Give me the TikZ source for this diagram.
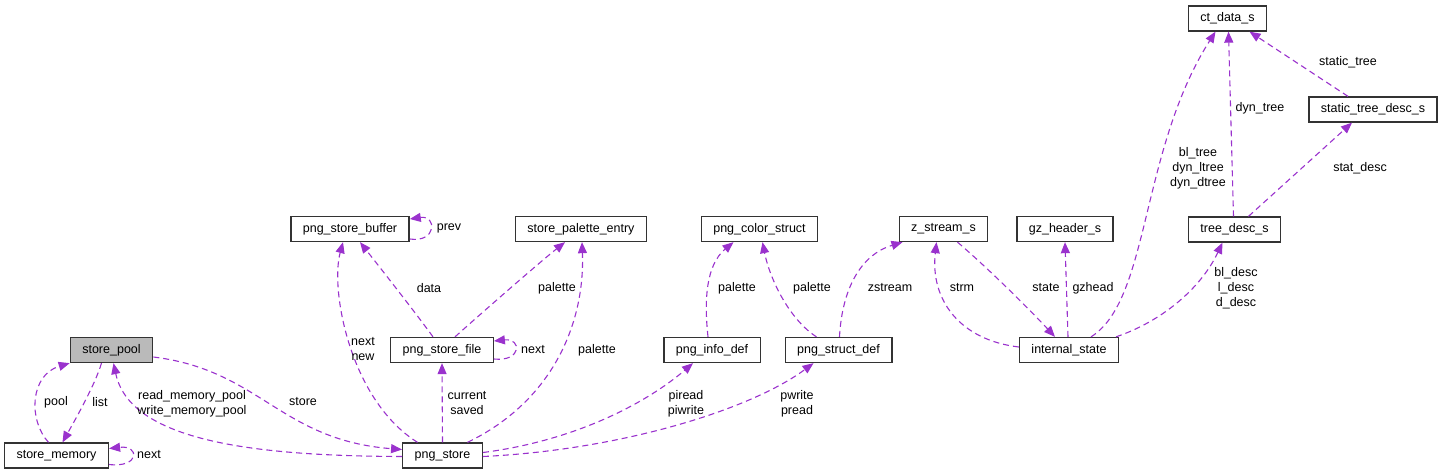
\documentclass[tikz,border=0pt]{standalone}
\usepackage{fontspec}
\setmainfont{Liberation Sans}
\usetikzlibrary{arrows.meta}
\definecolor{orchid}{RGB}{154,50,205}

\begin{document}
\begin{tikzpicture}[x=1pt, y=-1pt,
  every node/.style={font=\fontsize{12.5}{15}\selectfont},
  cls/.style={draw=black!80, line width=1.3pt, fill=white, minimum height=25pt, inner xsep=12pt, inner ysep=0pt},
  rel/.style={draw=orchid, line width=1.1pt, dash pattern=on 6pt off 4pt, -{Triangle[length=11pt,width=9pt]}},
  lbl/.style={align=center, inner sep=0pt}]
  \useasboundingbox (0,0) rectangle (1444,475);

  % classes
  \node (pool) [cls, fill=black!27] at (111.5,350) {store\_pool};
  \node (memory) [cls] at (56.5,455.5) {store\_memory};
  \node (pngstore) [cls] at (442.5,455.5) {png\_store};
  \node (storefile) [cls] at (442,350) {png\_store\_file};
  \node (buffer) [cls] at (350,229) {png\_store\_buffer};
  \node (palentry) [cls] at (581,229) {store\_palette\_entry};
  \node (colorstruct) [cls] at (759.5,229) {png\_color\_struct};
  \node (infodef) [cls] at (712,350) {png\_info\_def};
  \node (structdef) [cls] at (838.5,350) {png\_struct\_def};
  \node (zstream) [cls] at (943.5,229) {z\_stream\_s};
  \node (gzheader) [cls] at (1065,229) {gz\_header\_s};
  \node (istate) [cls] at (1069,350) {internal\_state};
  \node (treedesc) [cls] at (1234.5,229.5) {tree\_desc\_s};
  \node (stdesc) [cls] at (1373,109.5) {static\_tree\_desc\_s};
  \node (ctdata) [cls] at (1227.5,18.5) {ct\_data\_s};

  % members
  \draw [rel] ([xshift=-10pt]pool.south) .. controls (95,385) and (75,420) .. ([xshift=6pt]memory.north);
  \draw [rel] ([xshift=-8pt]memory.north) .. controls (28,420) and (30,375) .. (pool.south west);
  \draw [rel] ([yshift=-9pt]memory.east) .. controls (140,468) and (140,445) .. ([yshift=7pt]memory.east);
  \draw [rel] ([yshift=-1pt]pngstore.west) .. controls (250,456) and (130,440) .. ([xshift=2pt]pool.south);
  \draw [rel] ([yshift=-7pt]pool.east) .. controls (260,370) and (280,440) .. ([yshift=6pt]pngstore.west);
  \draw [rel] ([xshift=-25pt]pngstore.north) .. controls (350,400) and (330,290) .. ([xshift=-7pt]buffer.south);
  \draw [rel] ([xshift=-9pt]storefile.north) .. controls (415,312) and (378,265) .. ([xshift=10pt]buffer.south);
  \draw [rel] ([xshift=13pt]storefile.north) .. controls (485,310) and (540,262) .. ([xshift=-16pt]palentry.south);
  \draw [rel] ([yshift=-9pt]storefile.east) .. controls (522,362) and (522,338) .. ([yshift=9pt]storefile.east);
  \draw [rel] (pngstore.north) -- (storefile.south);
  \draw [rel] ([xshift=25pt]pngstore.north) .. controls (555,400) and (585,320) .. ([xshift=1pt]palentry.south);
  \draw [rel] ([yshift=-10pt]buffer.east) .. controls (437,243) and (437,215) .. ([yshift=10pt]buffer.east);
  \draw [rel] ([yshift=3pt]pngstore.east) .. controls (580,440) and (650,400) .. ([xshift=-19pt]infodef.south);
  \draw [rel] ([yshift=-1pt]pngstore.east) .. controls (620,450) and (750,410) .. ([xshift=-25pt]structdef.south);
  \draw [rel] ([xshift=-4pt]infodef.north) .. controls (704,300) and (706,265) .. ([xshift=-26pt]colorstruct.south);
  \draw [rel] ([xshift=-22pt]structdef.north) .. controls (790,320) and (770,280) .. ([xshift=3pt]colorstruct.south);
  \draw [rel] ([xshift=1pt]structdef.north) .. controls (842,290) and (860,255) .. ([xshift=-41pt]zstream.south);
  \draw [rel] ([yshift=3pt]istate.west) .. controls (960,340) and (930,300) .. ([xshift=-7pt]zstream.south);
  \draw [rel] ([xshift=14pt]zstream.south) .. controls (990,270) and (1030,310) .. ([xshift=-14pt]istate.north);
  \draw [rel] ([xshift=-1pt]istate.north) -- (gzheader.south);
  \draw [rel] ([xshift=22pt]istate.north) .. controls (1150,300) and (1140,150) .. ([xshift=-12pt]ctdata.south);
  \draw [rel] ([xshift=47pt]istate.north) .. controls (1160,322) and (1200,290) .. ([xshift=-12pt]treedesc.south);
  \draw [rel] ([xshift=-1pt]treedesc.north) -- ([xshift=1pt]ctdata.south);
  \draw [rel] ([xshift=14pt]treedesc.north) -- ([xshift=-21pt]stdesc.south);
  \draw [rel] ([xshift=-25pt]stdesc.north) -- ([xshift=22pt]ctdata.south);

  % member names
  \node (l-list) [lbl] at (100,402) {list};
  \node (l-pool) [lbl] at (56,402) {pool};
  \node (l-memnext) [lbl] at (149,455) {next};
  \node (l-rw) [lbl] at (192,403.5) {read\_memory\_pool\\write\_memory\_pool};
  \node (l-store) [lbl] at (303,402) {store};
  \node (l-nextnew) [lbl] at (363,349) {next\\new};
  \node (l-data) [lbl] at (429,288) {data};
  \node (l-palfile) [lbl] at (557,288) {palette};
  \node (l-filenext) [lbl] at (533,350) {next};
  \node (l-palstore) [lbl] at (597,350) {palette};
  \node (l-prev) [lbl] at (449,228) {prev};
  \node (l-cursaved) [lbl] at (467,403.5) {current\\saved};
  \node (l-piread) [lbl] at (686,403.5) {piread\\piwrite};
  \node (l-pwrite) [lbl] at (797,403.5) {pwrite\\pread};
  \node (l-palinfo) [lbl] at (737,288) {palette};
  \node (l-palstruct) [lbl] at (812,288) {palette};
  \node (l-zstream) [lbl] at (890,288) {zstream};
  \node (l-strm) [lbl] at (962,288) {strm};
  \node (l-state) [lbl] at (1046,288) {state};
  \node (l-gzhead) [lbl] at (1093,288) {gzhead};
  \node (l-bltree) [lbl] at (1198,168.5) {bl\_tree\\dyn\_ltree\\dyn\_dtree};
  \node (l-dyntree) [lbl] at (1260,108) {dyn\_tree};
  \node (l-stree) [lbl] at (1348,62) {static\_tree};
  \node (l-statdesc) [lbl] at (1360,168) {stat\_desc};
  \node (l-bldesc) [lbl] at (1236,288) {bl\_desc\\l\_desc\\d\_desc};
\end{tikzpicture}
\end{document}
